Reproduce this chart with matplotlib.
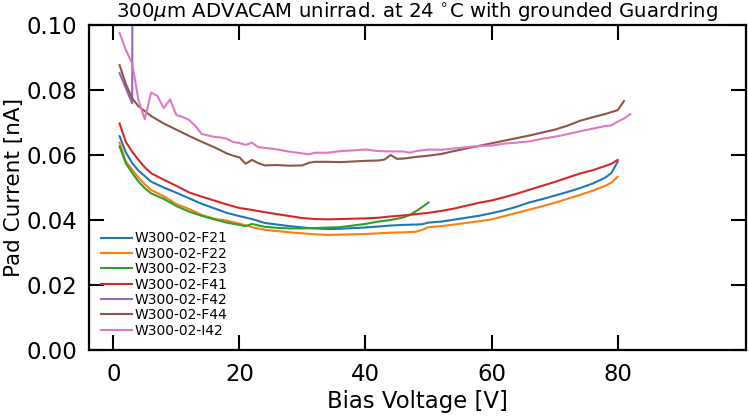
import matplotlib
matplotlib.use("Agg")
import matplotlib.pyplot as plt

# ---- data ----
v_f21 = [1, 2, 3, 4, 5, 6, 8, 10, 12, 14, 16, 18, 20, 22, 24, 26, 28, 30, 32, 34, 36, 38, 40,
         42, 44, 46, 48, 49, 50, 52, 54, 56, 58, 60, 62, 64, 66, 68, 70, 72, 74, 76, 78, 79, 80]
i_f21 = [0.0658, 0.0608, 0.0575, 0.0552, 0.0535, 0.0518, 0.0500, 0.0484, 0.0467, 0.0450,
         0.0436, 0.0422, 0.0412, 0.0403, 0.0391, 0.0386, 0.0381, 0.0377, 0.0374, 0.0372,
         0.0373, 0.0375, 0.0377, 0.0380, 0.0383, 0.0385, 0.0386, 0.0387, 0.0392, 0.0395,
         0.0401, 0.0407, 0.0413, 0.0421, 0.0430, 0.0441, 0.0454, 0.0464, 0.0475, 0.0486,
         0.0498, 0.0512, 0.0530, 0.0545, 0.0579]

v_f22 = [1, 2, 3, 4, 5, 6, 8, 10, 12, 14, 16, 18, 20, 22, 24, 26, 28, 30, 32, 34, 36, 38, 40,
         42, 44, 46, 48, 49, 50, 52, 54, 56, 58, 60, 62, 64, 66, 68, 70, 72, 74, 76, 78, 79, 80]
i_f22 = [0.0638, 0.0580, 0.0555, 0.0530, 0.0510, 0.0492, 0.0473, 0.0449, 0.0434, 0.0416,
         0.0404, 0.0398, 0.0389, 0.0378, 0.0370, 0.0366, 0.0362, 0.0359, 0.0356, 0.0354,
         0.0355, 0.0356, 0.0357, 0.0359, 0.0361, 0.0362, 0.0364, 0.0370, 0.0378, 0.0381,
         0.0386, 0.0391, 0.0396, 0.0402, 0.0412, 0.0422, 0.0432, 0.0442, 0.0453, 0.0465,
         0.0477, 0.0490, 0.0505, 0.0515, 0.0533]

v_f23 = [1, 2, 3, 4, 5, 6, 8, 10, 12, 14, 16, 18, 20, 21, 22, 24, 26, 28, 30, 32, 34, 36, 38,
         40, 42, 44, 46, 47, 48, 49, 50]
i_f23 = [0.0626, 0.0574, 0.0545, 0.0518, 0.0498, 0.0482, 0.0465, 0.0443, 0.0426, 0.0413,
         0.0402, 0.0392, 0.0385, 0.0381, 0.0388, 0.0379, 0.0376, 0.0374, 0.0374, 0.0375,
         0.0377, 0.0378, 0.0383, 0.0388, 0.0395, 0.0400, 0.0408, 0.0415, 0.0427, 0.0440,
         0.0454]

v_f41 = [1, 2, 3, 4, 5, 6, 8, 10, 12, 14, 16, 18, 20, 22, 24, 26, 28, 30, 32, 34, 36, 38, 40,
         42, 44, 46, 48, 50, 52, 54, 56, 58, 60, 62, 64, 66, 68, 70, 72, 74, 76, 78, 79, 80]
i_f41 = [0.0697, 0.0640, 0.0610, 0.0585, 0.0562, 0.0544, 0.0524, 0.0505, 0.0485, 0.0472,
         0.0460, 0.0448, 0.0437, 0.0431, 0.0424, 0.0418, 0.0412, 0.0406, 0.0403, 0.0402,
         0.0403, 0.0404, 0.0405, 0.0407, 0.0411, 0.0414, 0.0418, 0.0422, 0.0428, 0.0435,
         0.0444, 0.0453, 0.0460, 0.0470, 0.0481, 0.0493, 0.0505, 0.0517, 0.0530, 0.0543,
         0.0553, 0.0566, 0.0573, 0.0585]

v_f42 = [1, 2, 3, 4]
i_f42 = [0.0852, 0.0805, 0.0759, 1.0]

v_f44 = [1, 2, 3, 4, 5, 6, 8, 10, 12, 14, 16, 18, 19, 20, 21, 22, 23, 24, 26, 28, 30, 31, 32,
         34, 36, 38, 40, 42, 43, 44, 45, 46, 48, 50, 52, 54, 56, 58, 60, 62, 64, 66, 68, 70,
         72, 74, 76, 78, 80, 81]
i_f44 = [0.0877, 0.0818, 0.0774, 0.0750, 0.0735, 0.0720, 0.0697, 0.0678, 0.0659, 0.0641,
         0.0624, 0.0605, 0.0598, 0.0593, 0.0573, 0.0585, 0.0575, 0.0568, 0.0569, 0.0567,
         0.0568, 0.0576, 0.0579, 0.0579, 0.0578, 0.0580, 0.0582, 0.0583, 0.0586, 0.0600,
         0.0588, 0.0589, 0.0594, 0.0598, 0.0603, 0.0612, 0.0620, 0.0628, 0.0636, 0.0644,
         0.0652, 0.0660, 0.0669, 0.0678, 0.0690, 0.0705, 0.0716, 0.0726, 0.0738, 0.0766]

v_i42 = [1, 2, 3, 4, 5, 6, 7, 8, 9, 10, 11, 12, 13, 14, 15, 16, 17, 18, 19, 20, 21, 22, 23,
         24, 26, 28, 30, 31, 32, 34, 36, 38, 40, 42, 44, 46, 47, 48, 50, 52, 54, 56, 58, 60,
         62, 64, 66, 68, 70, 72, 74, 76, 78, 79, 80, 81, 82]
i_i42 = [0.0976, 0.0923, 0.0882, 0.0769, 0.0710, 0.0792, 0.0782, 0.0744, 0.0771, 0.0723,
         0.0717, 0.0708, 0.0690, 0.0665, 0.0660, 0.0656, 0.0654, 0.0650, 0.0640, 0.0637,
         0.0631, 0.0638, 0.0624, 0.0622, 0.0617, 0.0610, 0.0605, 0.0602, 0.0607, 0.0607,
         0.0612, 0.0614, 0.0617, 0.0612, 0.0611, 0.0611, 0.0607, 0.0612, 0.0617, 0.0616,
         0.0620, 0.0624, 0.0628, 0.0629, 0.0635, 0.0638, 0.0642, 0.0650, 0.0656, 0.0664,
         0.0673, 0.0681, 0.0689, 0.0691, 0.0703, 0.0712, 0.0726]

labels = ["W300-02-F21", "W300-02-F22", "W300-02-F23", "W300-02-F41",
          "W300-02-F42", "W300-02-F44", "W300-02-I42"]
series = [(v_f21, i_f21), (v_f22, i_f22), (v_f23, i_f23), (v_f41, i_f41),
          (v_f42, i_f42), (v_f44, i_f44), (v_i42, i_i42)]

title = r"300$\mu$m ADVACAM unirrad. at 24 $^{\circ}$C with grounded Guardring"
xlabel = "Bias Voltage [V]"
ylabel = "Pad Current [nA]"

# ---- plot ----
plt.rcParams['font.family'] = ['DejaVu Sans']
fig = plt.figure(figsize=(7.49, 4.19), dpi=100)
W, H = 749, 419
ax = fig.add_axes([89.3 / W, (H - 350) / H, (745.7 - 89.3) / W, (350 - 25) / H])

for (v, i), lab in zip(series, labels):
    ax.plot(v, i, lw=1.5, label=lab)

ax.set_xlim(-3.8, 100.3)
ax.set_ylim(0, 0.1)
ax.set_xticks([0, 20, 40, 60, 80])
ax.set_yticks([0.0, 0.02, 0.04, 0.06, 0.08, 0.10])
ax.tick_params(direction='in', length=11, width=1.5, top=True, right=True,
               labelsize=16.4, pad=9)
for s in ax.spines.values():
    s.set_linewidth(1.6)

ax.set_title(title, fontsize=14.2, pad=6)
ax.set_xlabel(xlabel, fontsize=16.4, labelpad=3)
ax.set_ylabel(ylabel, fontsize=15.5)
ax.yaxis.set_label_coords(-0.099, 0.5)

ax.legend(loc='upper left', bbox_to_anchor=(0.0093, 0.382), frameon=False,
          fontsize=10, handlelength=2.2, handletextpad=0.2, labelspacing=0.1,
          borderaxespad=0)

fig.savefig("out.png", dpi=100)
